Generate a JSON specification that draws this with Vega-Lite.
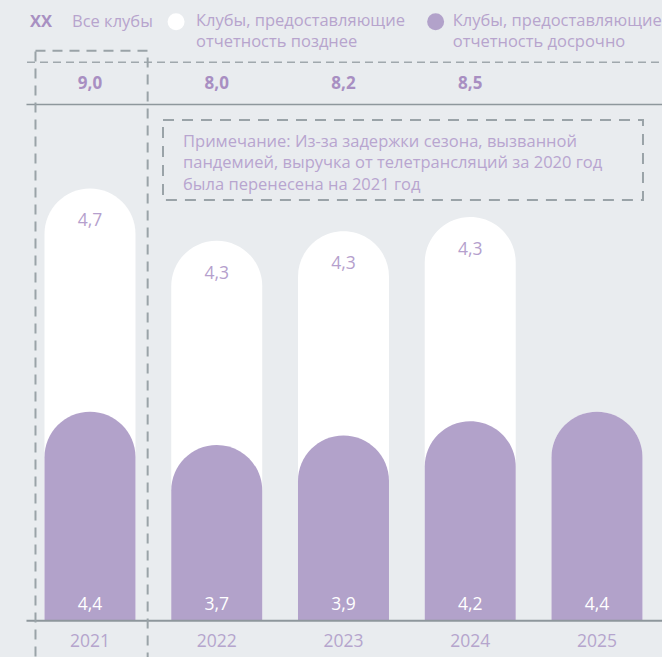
{
  "$schema": "https://vega.github.io/schema/vega-lite/v6.json",
  "width": 662,
  "height": 657,
  "autosize": {"type": "none"},
  "padding": 0,
  "background": "#e9ecef",
  "config": {
    "view": {"stroke": null},
    "text": {"font": "Open Sans"},
    "scale": {"continuousPadding": 0},
    "locale": {"number": {"decimal": ",", "thousands": " ", "grouping": [3], "currency": ["", ""]}}
  },
  "data": {"values": [
    {"year": 2021, "early": 4.4, "late": 4.7, "total": 9.0},
    {"year": 2022, "early": 3.7, "late": 4.3, "total": 8.0},
    {"year": 2023, "early": 3.9, "late": 4.3, "total": 8.2},
    {"year": 2024, "early": 4.2, "late": 4.3, "total": 8.5},
    {"year": 2025, "early": 4.4, "late": null, "total": null}
  ]},
  "layer": [
    {
      "transform": [{"fold": ["early", "late"], "as": ["key", "value"]}],
      "mark": {"type": "bar", "color": "#ffffff", "size": 91, "cornerRadiusTopLeft": 45.5, "cornerRadiusTopRight": 45.5},
      "encoding": {
        "x": {"field": "year", "type": "quantitative", "scale": {"domain": [2020.29, 2025.513], "nice": false, "zero": false, "padding": 0}, "axis": null},
        "y": {"aggregate": "sum", "field": "value", "type": "quantitative", "scale": {"domain": [-0.764, 13.067], "nice": false, "zero": false, "padding": 0}, "axis": null}
      }
    },
    {
      "mark": {"type": "bar", "color": "#b2a2ca", "size": 91, "cornerRadiusTopLeft": 45.5, "cornerRadiusTopRight": 45.5},
      "encoding": {
        "x": {"field": "year", "type": "quantitative", "scale": {"domain": [2020.29, 2025.513], "nice": false, "zero": false, "padding": 0}, "axis": null},
        "y": {"field": "early", "type": "quantitative", "scale": {"domain": [-0.764, 13.067], "nice": false, "zero": false, "padding": 0}, "axis": null},
        "y2": {"datum": 0}
      }
    },
    {
      "transform": [
        {"fold": ["early", "late"], "as": ["key", "value"]},
        {"joinaggregate": [{"op": "sum", "field": "value", "as": "top"}], "groupby": ["year"]},
        {"filter": "datum.key == 'late' && isValid(datum.value)"}
      ],
      "mark": {"type": "text", "fontSize": 17.5, "color": "#b59fcd", "baseline": "middle", "dy": 33},
      "encoding": {
        "x": {"field": "year", "type": "quantitative", "scale": {"domain": [2020.29, 2025.513], "nice": false, "zero": false, "padding": 0}, "axis": null},
        "y": {"field": "top", "type": "quantitative", "scale": {"domain": [-0.764, 13.067], "nice": false, "zero": false, "padding": 0}, "axis": null},
        "text": {"field": "value", "type": "quantitative", "format": ".1f"}
      }
    },
    {
      "mark": {"type": "text", "fontSize": 17.5, "color": "#ffffff", "baseline": "middle", "dy": -16},
      "encoding": {
        "x": {"field": "year", "type": "quantitative", "scale": {"domain": [2020.29, 2025.513], "nice": false, "zero": false, "padding": 0}, "axis": null},
        "y": {"datum": 0, "scale": {"domain": [-0.764, 13.067], "nice": false, "zero": false, "padding": 0}, "axis": null},
        "text": {"field": "early", "type": "quantitative", "format": ".1f"}
      }
    },
    {
      "mark": {"type": "text", "fontSize": 17.5, "color": "#b5a5cd", "baseline": "middle", "dy": 21},
      "encoding": {
        "x": {"field": "year", "type": "quantitative", "scale": {"domain": [2020.29, 2025.513], "nice": false, "zero": false, "padding": 0}, "axis": null},
        "y": {"datum": 0, "scale": {"domain": [-0.764, 13.067], "nice": false, "zero": false, "padding": 0}, "axis": null},
        "text": {"field": "year", "type": "quantitative", "format": "d"}
      }
    },
    {
      "transform": [{"filter": "isValid(datum.total)"}],
      "mark": {"type": "text", "fontSize": 17, "fontWeight": "bold", "color": "#a88fc2", "baseline": "middle"},
      "encoding": {
        "x": {"field": "year", "type": "quantitative", "scale": {"domain": [2020.29, 2025.513], "nice": false, "zero": false, "padding": 0}, "axis": null},
        "y": {"datum": 11.3, "scale": {"domain": [-0.764, 13.067], "nice": false, "zero": false, "padding": 0}, "axis": null},
        "text": {"field": "total", "type": "quantitative", "format": ".1f"}
      }
    },
    {
      "data": {"values": [{}]},
      "mark": {"type": "rule", "color": "#8e979c", "strokeWidth": 2},
      "encoding": {
        "x": {"datum": 2020.499, "scale": {"domain": [2020.29, 2025.513], "nice": false, "zero": false, "padding": 0}, "axis": null},
        "x2": {"datum": 2025.513},
        "y": {"datum": 0, "scale": {"domain": [-0.764, 13.067], "nice": false, "zero": false, "padding": 0}, "axis": null}
      }
    },
    {
      "data": {"values": [{}]},
      "mark": {"type": "rule", "color": "#8e979c", "strokeWidth": 1.5},
      "encoding": {
        "x": {"datum": 2020.499, "scale": {"domain": [2020.29, 2025.513], "nice": false, "zero": false, "padding": 0}, "axis": null},
        "x2": {"datum": 2025.513},
        "y": {"datum": 10.867, "scale": {"domain": [-0.764, 13.067], "nice": false, "zero": false, "padding": 0}, "axis": null}
      }
    },
    {
      "data": {"values": [{}]},
      "mark": {"type": "rule", "color": "#a0a8ad", "strokeWidth": 1.5, "strokeDash": [8, 5]},
      "encoding": {
        "x": {"datum": 2020.503, "scale": {"domain": [2020.29, 2025.513], "nice": false, "zero": false, "padding": 0}, "axis": null},
        "x2": {"datum": 2025.513},
        "y": {"datum": 11.756, "scale": {"domain": [-0.764, 13.067], "nice": false, "zero": false, "padding": 0}, "axis": null}
      }
    },
    {
      "data": {"values": [{}]},
      "mark": {"type": "rect", "fill": null, "fillOpacity": 0, "stroke": "#9aa3a8", "strokeWidth": 2, "strokeDash": [10, 7]},
      "encoding": {
        "x": {"datum": 2020.57, "scale": {"domain": [2020.29, 2025.513], "nice": false, "zero": false, "padding": 0}, "axis": null},
        "x2": {"datum": 2021.455},
        "y": {"datum": 12.0, "scale": {"domain": [-0.764, 13.067], "nice": false, "zero": false, "padding": 0}, "axis": null},
        "y2": {"datum": -1.5}
      }
    },
    {
      "data": {"values": [{}]},
      "mark": {"type": "rect", "fill": null, "fillOpacity": 0, "stroke": "#9aa3a8", "strokeWidth": 2, "strokeDash": [11, 8]},
      "encoding": {
        "x": {"datum": 2021.576, "scale": {"domain": [2020.29, 2025.513], "nice": false, "zero": false, "padding": 0}, "axis": null},
        "x2": {"datum": 2025.363},
        "y": {"datum": 10.54, "scale": {"domain": [-0.764, 13.067], "nice": false, "zero": false, "padding": 0}, "axis": null},
        "y2": {"datum": 8.857}
      }
    },
    {
      "data": {"values": [{"t": "Примечание: Из-за задержки сезона, вызванной\nпандемией, выручка от телетрансляций за 2020 год\nбыла перенесена на 2021 год"}]},
      "mark": {"type": "text", "fontSize": 16.5, "color": "#b8a5cf", "align": "left", "baseline": "middle", "lineBreak": "\n", "lineHeight": 21.5},
      "encoding": {
        "x": {"datum": 2021.734, "scale": {"domain": [2020.29, 2025.513], "nice": false, "zero": false, "padding": 0}, "axis": null},
        "y": {"datum": 10.084, "scale": {"domain": [-0.764, 13.067], "nice": false, "zero": false, "padding": 0}, "axis": null},
        "text": {"field": "t"}
      }
    },
    {
      "data": {"values": [{"t": "XX"}]},
      "mark": {"type": "text", "fontSize": 16.5, "fontWeight": "bold", "color": "#a890c2", "align": "left", "baseline": "middle"},
      "encoding": {
        "x": {"datum": 2020.527, "scale": {"domain": [2020.29, 2025.513], "nice": false, "zero": false, "padding": 0}, "axis": null},
        "y": {"datum": 12.611, "scale": {"domain": [-0.764, 13.067], "nice": false, "zero": false, "padding": 0}, "axis": null},
        "text": {"field": "t"}
      }
    },
    {
      "data": {"values": [{"t": "Все клубы"}]},
      "mark": {"type": "text", "fontSize": 16.5, "color": "#b7a4cd", "align": "left", "baseline": "middle"},
      "encoding": {
        "x": {"datum": 2020.858, "scale": {"domain": [2020.29, 2025.513], "nice": false, "zero": false, "padding": 0}, "axis": null},
        "y": {"datum": 12.611, "scale": {"domain": [-0.764, 13.067], "nice": false, "zero": false, "padding": 0}, "axis": null},
        "text": {"field": "t"}
      }
    },
    {
      "data": {"values": [{"t": "Клубы, предоставляющие\nотчетность позднее"}]},
      "mark": {"type": "text", "fontSize": 16.5, "color": "#b7a4cd", "align": "left", "baseline": "middle", "lineBreak": "\n", "lineHeight": 21},
      "encoding": {
        "x": {"datum": 2021.836, "scale": {"domain": [2020.29, 2025.513], "nice": false, "zero": false, "padding": 0}, "axis": null},
        "y": {"datum": 12.632, "scale": {"domain": [-0.764, 13.067], "nice": false, "zero": false, "padding": 0}, "axis": null},
        "text": {"field": "t"}
      }
    },
    {
      "data": {"values": [{"t": "Клубы, предоставляющие\nотчетность досрочно"}]},
      "mark": {"type": "text", "fontSize": 16.5, "color": "#b7a4cd", "align": "left", "baseline": "middle", "lineBreak": "\n", "lineHeight": 21},
      "encoding": {
        "x": {"datum": 2023.862, "scale": {"domain": [2020.29, 2025.513], "nice": false, "zero": false, "padding": 0}, "axis": null},
        "y": {"datum": 12.632, "scale": {"domain": [-0.764, 13.067], "nice": false, "zero": false, "padding": 0}, "axis": null},
        "text": {"field": "t"}
      }
    },
    {
      "data": {"values": [{"series": "late"}]},
      "mark": {"type": "point", "filled": true, "shape": "circle", "size": 289, "color": "#ffffff", "opacity": 1},
      "encoding": {
        "x": {"datum": 2021.679, "scale": {"domain": [2020.29, 2025.513], "nice": false, "zero": false, "padding": 0}, "axis": null},
        "y": {"datum": 12.611, "scale": {"domain": [-0.764, 13.067], "nice": false, "zero": false, "padding": 0}, "axis": null}
      }
    },
    {
      "data": {"values": [{"series": "early"}]},
      "mark": {"type": "point", "filled": true, "shape": "circle", "size": 289, "color": "#b2a2ca", "opacity": 1},
      "encoding": {
        "x": {"datum": 2023.727, "scale": {"domain": [2020.29, 2025.513], "nice": false, "zero": false, "padding": 0}, "axis": null},
        "y": {"datum": 12.611, "scale": {"domain": [-0.764, 13.067], "nice": false, "zero": false, "padding": 0}, "axis": null}
      }
    }
  ]
}
